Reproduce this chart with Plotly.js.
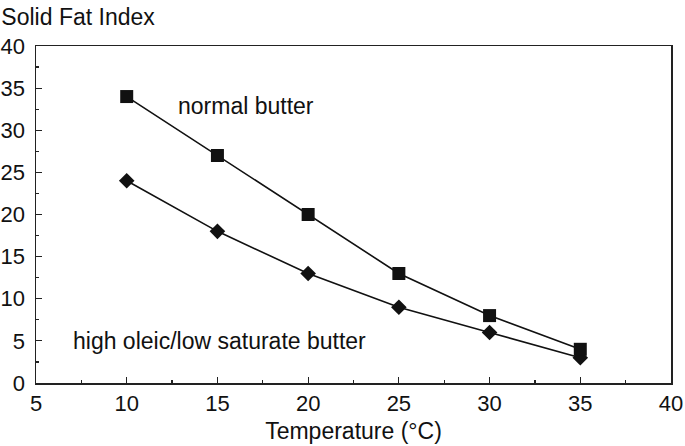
<!DOCTYPE html>
<html>
<head>
<meta charset="utf-8">
<script src="https://cdn.plot.ly/plotly-3.0.1.min.js"></script>
<style>html,body{margin:0;padding:0;background:#fff;}#chart{width:685px;height:446px;}</style>
</head>
<body>
<div id="chart"></div>
<script>
var temperature = [10, 15, 20, 25, 30, 35];
var normalButter = [34, 27, 20, 13, 8, 4];
var highOleicButter = [24, 18, 13, 9, 6, 3];
var xTicks = [5, 10, 15, 20, 25, 30, 35, 40];
var yTicks = [0, 5, 10, 15, 20, 25, 30, 35, 40];

var FONT = 'Liberation Sans, Arial, Helvetica, sans-serif';

var traces = [
  {
    x: temperature, y: highOleicButter, type: 'scatter', mode: 'lines+markers',
    name: 'high oleic/low saturate butter',
    line: {color: '#111111', width: 1.6},
    marker: {symbol: 'diamond', size: 12, color: '#111111'},
    cliponaxis: false
  },
  {
    x: temperature, y: normalButter, type: 'scatter', mode: 'lines+markers',
    name: 'normal butter',
    line: {color: '#111111', width: 1.6},
    marker: {symbol: 'square', size: 13, color: '#111111'},
    cliponaxis: false
  }
];

var layout = {
  width: 685, height: 446,
  margin: {l: 36, r: 14, t: 46, b: 63},
  paper_bgcolor: '#ffffff', plot_bgcolor: '#ffffff',
  showlegend: false,
  font: {family: FONT, size: 23, color: '#111111'},
  title: {
    text: 'Solid Fat Index',
    font: {family: FONT, size: 23, color: '#111111'},
    xref: 'container', x: 0.002, xanchor: 'left',
    yref: 'container', y: 0.963, yanchor: 'middle'
  },
  xaxis: {
    range: [5, 40], tickvals: xTicks, ticktext: xTicks.map(String),
    ticks: 'inside', ticklen: 6, tickwidth: 1.2, tickcolor: '#222',
    minor: {ticks: 'inside', dtick: 2.5, tick0: 5, ticklen: 3, tickwidth: 1.2, tickcolor: '#222'},
    showline: true, linecolor: '#222', linewidth: 1.5, mirror: true,
    showgrid: false, zeroline: false,
    tickfont: {family: FONT, size: 22, color: '#111'},
    title: {text: 'Temperature (°C)', font: {family: FONT, size: 23, color: '#111'}, standoff: 8}
  },
  yaxis: {
    range: [0, 40], tickvals: yTicks, ticktext: yTicks.map(String),
    ticks: 'inside', ticklen: 6, tickwidth: 1.2, tickcolor: '#222',
    minor: {ticks: 'inside', dtick: 2.5, tick0: 0, ticklen: 3, tickwidth: 1.2, tickcolor: '#222'},
    showline: true, linecolor: '#222', linewidth: 1.5, mirror: true,
    showgrid: false, zeroline: false,
    ticklabelstandoff: 5,
    tickfont: {family: FONT, size: 22, color: '#111'}
  },
  annotations: [
    {x: 16.55, y: 32.9, xref: 'x', yref: 'y', text: 'normal butter', showarrow: false,
     xanchor: 'center', yanchor: 'middle', font: {family: FONT, size: 23, color: '#111'}},
    {x: 15.12, y: 5.0, xref: 'x', yref: 'y', text: 'high oleic/low saturate butter', showarrow: false,
     xanchor: 'center', yanchor: 'middle', font: {family: FONT, size: 23, color: '#111'}}
  ]
};

Plotly.newPlot('chart', traces, layout, {staticPlot: true, displayModeBar: false});
</script>
</body>
</html>
